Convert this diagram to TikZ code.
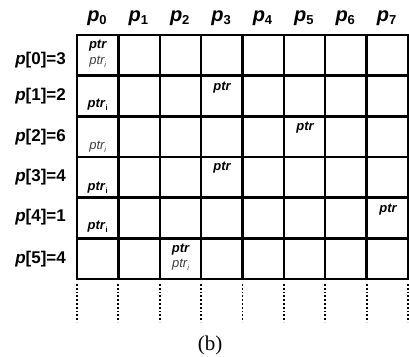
\documentclass[tikz,border=0pt]{standalone}
\usepackage{fontspec}
\setmainfont{Liberation Sans}
\newfontfamily\capfont{Liberation Serif}
\newcommand{\pidx}[1]{{\bfseries\itshape p}\raisebox{-0.3ex}{\bfseries\fontsize{13}{14}\selectfont #1}}
\newcommand{\plab}[2]{{\bfseries\itshape p}{\bfseries[#1]=#2}}
\newcommand{\ptri}{\textit{ptr}\raisebox{-0.4ex}{\fontsize{7.5}{8}\selectfont i}}
\begin{document}
\begin{tikzpicture}[x=1pt,y=-1pt,
  gridline/.style={line width=2.4pt,line cap=rect},
  dotline/.style={line width=1.8pt,dotted},
  hdr/.style={font=\fontsize{20}{22}\selectfont,inner sep=0pt},
  rowlab/.style={font=\fontsize{17}{19}\selectfont,inner sep=0pt,anchor=east},
  ptrb/.style={font=\fontsize{13}{14}\selectfont\bfseries\itshape,inner sep=0pt},
  ptrl/.style={font=\fontsize{13}{14}\selectfont\itshape,text=black!75,inner sep=0pt},
  ptrlb/.style={font=\fontsize{13}{14}\selectfont\bfseries,inner sep=0pt},
]
\useasboundingbox (0,0) rectangle (409,356);
% grid
\foreach \j in {0,...,6}
  \draw[gridline] (77,{35+40.67*\j}) -- (408,{35+40.67*\j});
\foreach \i in {0,...,8}{
  \draw[gridline] ({77+41.375*\i},35) -- ({77+41.375*\i},279);
  \draw[dotline] ({77+41.375*\i},284) -- ({77+41.375*\i},322);
}
% headers
\foreach \i in {0,...,7}
  \node[hdr] (h\i) at ({97+41.375*\i},18) {\pidx{\i}};
% row labels
\node[rowlab] (r0) at (66,60) {\plab{0}{3}};
\node[rowlab] (r1) at (66,96) {\plab{1}{2}};
\node[rowlab] (r2) at (66,137) {\plab{2}{6}};
\node[rowlab] (r3) at (66,177) {\plab{3}{4}};
\node[rowlab] (r4) at (66,217) {\plab{4}{1}};
\node[rowlab] (r5) at (66,259) {\plab{5}{4}};
% ptr markers
\node[ptrb] (p0) at (97.7,46) {ptr};
\node[ptrl] (q0) at (97.7,62) {\ptri};
\node[ptrb] (p1) at (222,88) {ptr};
\node[ptrlb] (q1) at (97.7,105) {\ptri};
\node[ptrb] (p2) at (305,128) {ptr};
\node[ptrl] (q2) at (97.7,147) {\ptri};
\node[ptrb] (p3) at (222,168) {ptr};
\node[ptrlb] (q3) at (97.7,188) {\ptri};
\node[ptrb] (p4) at (388,210) {ptr};
\node[ptrlb] (q4) at (97.7,227) {\ptri};
\node[ptrb] (p5) at (180.5,250) {ptr};
\node[ptrl] (q5) at (180.5,265) {\ptri};
% caption
\node[font=\capfont\fontsize{21}{23}\selectfont,inner sep=0pt] (cap) at (210,345) {(b)};
\end{tikzpicture}
\end{document}
